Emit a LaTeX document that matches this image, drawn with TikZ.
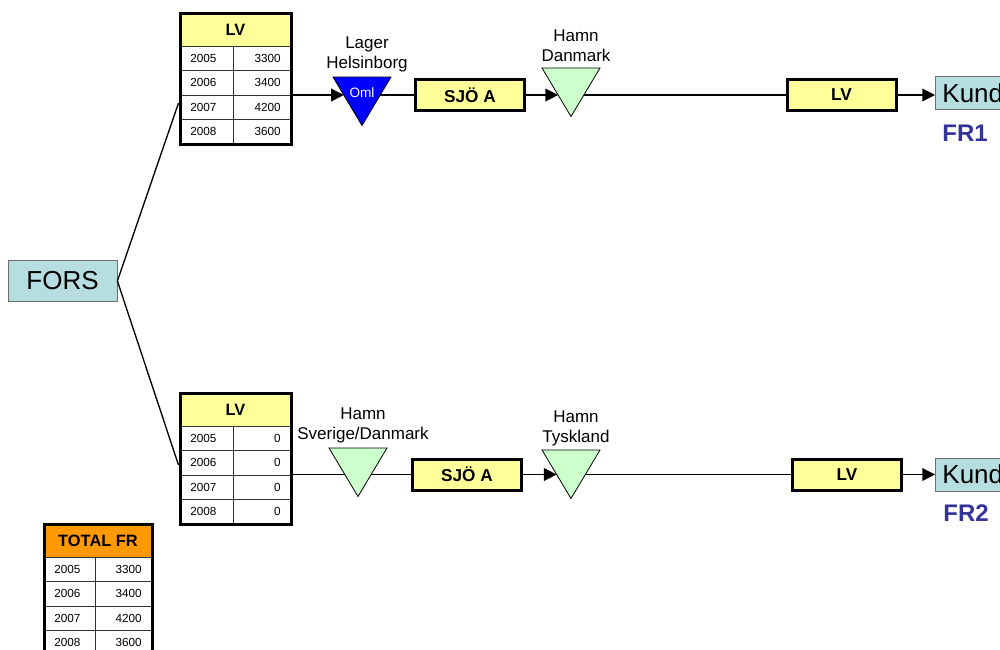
\documentclass[tikz,border=0pt]{standalone}
\usepackage{fontspec}
\setmainfont{Liberation Sans}
\usetikzlibrary{arrows.meta}
\definecolor{boxblue}{RGB}{182,221,224}
\definecolor{lyellow}{RGB}{255,255,153}
\definecolor{lgreen}{RGB}{204,255,204}
\definecolor{frblue}{RGB}{51,51,153}
\definecolor{orng}{RGB}{255,153,0}
\definecolor{gridgray}{RGB}{50,50,50}
\definecolor{edgegray}{RGB}{110,110,110}

\tikzset{
  hdr/.style={font=\bfseries\fontsize{12.3}{14}\selectfont, inner sep=0pt},
  num/.style={font=\fontsize{8.8}{10}\selectfont, inner sep=0pt},
  tabframe/.style={draw=black, line width=2.25pt, inner sep=0pt},
  cellline/.style={draw=gridgray, line width=0.7pt},
  flowbox/.style={draw=black, fill=lyellow, line width=2.25pt, inner sep=0pt,
    minimum width=109*0.75pt, minimum height=31*0.75pt,
    font=\bfseries\fontsize{12.9}{15}\selectfont},
  endbox/.style={draw=edgegray, fill=boxblue, line width=0.6pt,
    font=\fontsize{19.5}{22}\selectfont, minimum height=33*0.75pt, inner sep=0pt},
  lbl/.style={align=center, font=\fontsize{12.75}{15}\selectfont, inner sep=0pt},
  frlbl/.style={text=frblue, font=\bfseries\fontsize{18}{20}\selectfont, inner sep=0pt},
  conn/.style={draw=black, line width=1pt},
  arr/.style={conn, -{Triangle[length=9.5pt, width=9.5pt]}},
  tristyle/.style={draw=black, line width=0.6pt},
}

% table: #1 name, #2 left x, #3 top y, #4 header, #5 header colour, #6-#9 values
\newcommand\ftable[9]{%
\begin{scope}[shift={(#2,#3)}]
  \fill[#5] (0,0) rectangle (\tabw,33);
  \node[hdr] (#1-h) at (\tabw/2,17) {#4};
  \draw[cellline] (0,33) -- (\tabw,33) (0,57.5) -- (\tabw,57.5)
     (0,82) -- (\tabw,82) (0,106.5) -- (\tabw,106.5) (\tabc,33) -- (\tabc,131);
  \node[num,anchor=west] (#1-y1) at (10,45.25) {2005};
  \node[num,anchor=west] (#1-y2) at (10,69.75) {2006};
  \node[num,anchor=west] (#1-y3) at (10,94.25) {2007};
  \node[num,anchor=west] (#1-y4) at (10,118.75) {2008};
  \node[num,anchor=east] (#1-v1) at (\tabw-10,45.25) {#6};
  \node[num,anchor=east] (#1-v2) at (\tabw-10,69.75) {#7};
  \node[num,anchor=east] (#1-v3) at (\tabw-10,94.25) {#8};
  \node[num,anchor=east] (#1-v4) at (\tabw-10,118.75) {#9};
  \node[tabframe, minimum width=\tabw*0.75pt, minimum height=131*0.75pt] (#1) at (\tabw/2,65.5) {};
\end{scope}}

% triangle: #1 name, #2 left x, #3 top y, #4 fill, #5 y of the flow line
\newcommand\flowtri[5]{%
  \filldraw[tristyle, fill=#4] (#2,#3) -- ++(58,0) -- ++(-29,48.5) -- cycle;
  \coordinate (#1-in) at ({#2+29*(#5-#3)/48.5},#5);
  \coordinate (#1-out) at ({#2+58-29*(#5-#3)/48.5},#5);
  \coordinate (#1) at ({#2+29},{#3+17});
}

\begin{document}
\begin{tikzpicture}[x=0.75pt,y=-0.75pt]
\useasboundingbox (0,0) rectangle (1000,650);
\fill[white] (0,0) rectangle (1000,650);

% source
\node[endbox, minimum width=109*0.75pt, minimum height=41*0.75pt] (fors) at (62.5,281) {FORS};

% tables
\def\tabw{111}\def\tabc{53}
\ftable{lvA}{180}{13}{LV}{lyellow}{3300}{3400}{4200}{3600}
\ftable{lvB}{180}{393}{LV}{lyellow}{0}{0}{0}{0}
\def\tabw{108}\def\tabc{51}
\ftable{tot}{44}{524}{TOTAL FR}{orng}{3300}{3400}{4200}{3600}

% top row
\flowtri{oml}{333}{77}{blue}{95}
\node[text=white, font=\fontsize{10.2}{12}\selectfont, inner sep=0pt] (omltxt) at (362,93) {Oml};
\node[lbl] (lblA) at (367,54) {Lager\\Helsinborg};
\node[flowbox] (sjoA) at (470,95) {SJÖ A};
\flowtri{dk}{542}{68}{lgreen}{95}
\node[lbl] (lblB) at (576,46) {Hamn\\Danmark};
\node[flowbox] (lvC) at (841.5,95) {LV};
\node[endbox, anchor=west, minimum width=140*0.75pt, text width=126*0.75pt, align=left, inner xsep=7*0.75pt] (kund1) at (935,93) {Kund};
\node[frlbl] (fr1) at (965,133) {FR1};

% bottom row
\flowtri{sv}{329}{448}{lgreen}{474.5}
\node[lbl] (lblC) at (363,425.5) {Hamn\\Sverige/Danmark};
\node[flowbox] (sjoB) at (467,474.5) {SJÖ A};
\flowtri{ty}{542}{450}{lgreen}{474.5}
\node[lbl] (lblD) at (576,428) {Hamn\\Tyskland};
\node[flowbox] (lvD) at (847,474.5) {LV};
\node[endbox, anchor=west, minimum width=140*0.75pt, text width=126*0.75pt, align=left, inner xsep=7*0.75pt] (kund2) at (935,474.5) {Kund};
\node[frlbl] (fr2) at (966,513) {FR2};

% connectors
\draw[conn] (fors.east) -- ([yshift=-18.4pt]lvA.west);
\draw[conn] (fors.east) -- ([yshift=-4.9pt]lvB.west);

\draw[arr] (lvA.east |- oml-in) -- (oml-in);
\draw[conn] (oml-out) -- (sjoA.west);
\draw[arr] (sjoA.east) -- (dk-in);
\draw[conn] (dk-out) -- (lvC.west);
\draw[arr] (lvC.east) -- (kund1.west |- lvC.east);

\draw[conn] (lvB.east |- sv-in) -- (sv-in);
\draw[conn] (sv-out) -- (sjoB.west);
\draw[arr] (sjoB.east) -- (ty-in);
\draw[conn] (ty-out) -- (lvD.west);
\draw[arr] (lvD.east) -- (kund2.west |- lvD.east);
\end{tikzpicture}
\end{document}
